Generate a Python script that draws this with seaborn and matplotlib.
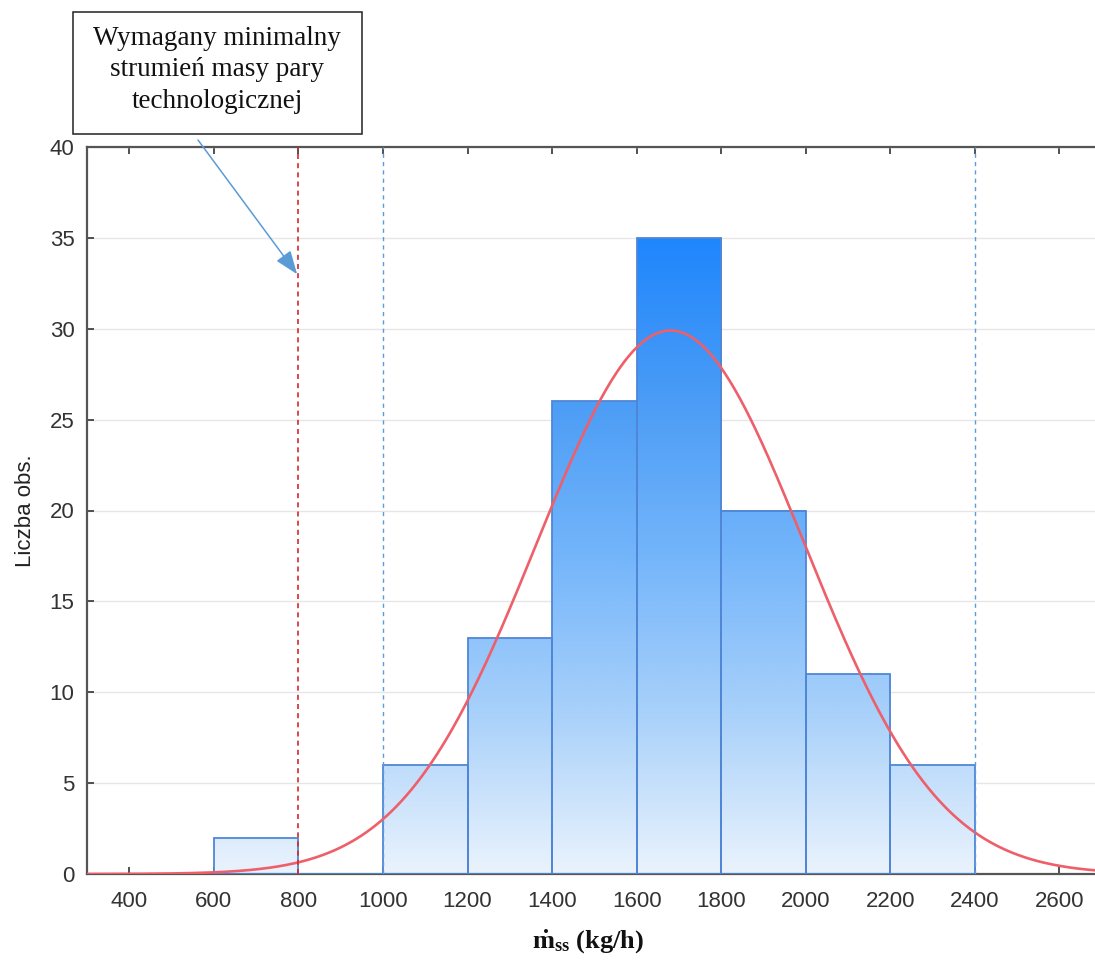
import numpy as np
import pandas as pd
import matplotlib
matplotlib.use("Agg")
import matplotlib.pyplot as plt
from matplotlib.colors import LinearSegmentedColormap
from matplotlib.patches import Rectangle
import seaborn as sns

# Histogram of steam mass flow (kg/h)
bin_edges = [600, 800, 1000, 1200, 1400, 1600, 1800, 2000, 2200, 2400]
counts = [2, 0, 6, 13, 26, 35, 20, 11, 6]

# Fitted normal distribution
fit_mean = 1680.0
fit_std = 317.5

min_required = 800
range_lines = [1000, 2400]

x_ticks = [400, 600, 800, 1000, 1200, 1400, 1600, 1800, 2000, 2200, 2400, 2600]
y_ticks = [0, 5, 10, 15, 20, 25, 30, 35, 40]

sns.set_theme(style="white")
plt.rcParams["font.family"] = ["Liberation Sans", "DejaVu Sans"]
plt.rcParams["mathtext.fontset"] = "custom"
plt.rcParams["mathtext.rm"] = "Liberation Serif"
plt.rcParams["mathtext.bf"] = "Liberation Serif:bold"

fig = plt.figure(figsize=(10.95, 9.65), dpi=100)
ax = fig.add_axes([87 / 1095, 1 - 874 / 965, 1 - 87 / 1095, (874 - 147) / 965])

centers = [(a + b) / 2 for a, b in zip(bin_edges[:-1], bin_edges[1:])]
df = pd.DataFrame({"x": centers, "n": counts})
sns.histplot(data=df, x="x", weights="n", bins=bin_edges, ax=ax,
             fill=True, facecolor="none", edgecolor="#4f86d6", linewidth=1.3,
             zorder=3)

ax.set_xlim(300, 2684)
ax.set_ylim(0, 40)

# Vertical gradient fill clipped to each bar
cmap = LinearSegmentedColormap.from_list(
    "bars", ["#eaf3fd", "#a9d1fa", "#74b5fa", "#4a9cf6", "#1f86fd"])
grad = np.linspace(0, 1, 256).reshape(-1, 1)
for patch in ax.patches:
    if patch.get_height() <= 0:
        continue
    im = ax.imshow(grad, cmap=cmap, origin="lower", aspect="auto",
                   extent=[300, 2684, 0, 35], zorder=2, interpolation="bilinear")
    im.set_clip_path(patch)
ax.set_xlim(300, 2684)
ax.set_ylim(0, 40)

# Normal curve scaled to counts
total = sum(counts)
width = bin_edges[1] - bin_edges[0]
xs = np.linspace(300, 2684, 600)
ys = total * width * np.exp(-0.5 * ((xs - fit_mean) / fit_std) ** 2) / (fit_std * np.sqrt(2 * np.pi))
sns.lineplot(x=xs, y=ys, ax=ax, color="#ee5f6a", linewidth=1.9, zorder=5)

ax.axvline(min_required, color="#d42a2a", linestyle=(0, (3, 2.5)), linewidth=1.2, zorder=6)
for xv in range_lines:
    ax.axvline(xv, color="#5a9ae0", linestyle=(0, (3, 3)), linewidth=1.0, zorder=6)

ax.set_xticks(x_ticks)
ax.set_yticks(y_ticks)
ax.yaxis.grid(True, color="#e6e6e6", linewidth=1.0)
ax.set_axisbelow(True)
ax.tick_params(axis="both", direction="in", length=5, width=1.2, colors="#333333",
               labelsize=16, top=True, left=True, bottom=True)
ax.tick_params(axis="x", pad=12)
ax.tick_params(axis="y", pad=9)
for side in ["left", "bottom", "top"]:
    ax.spines[side].set_color("#555555")
    ax.spines[side].set_linewidth(1.6)
ax.spines["right"].set_visible(False)

ax.set_ylabel("Liczba obs.", fontsize=16, color="#222222", labelpad=10)
ax.set_xlabel("")
fig.text(588 / 1095, 1 - 942 / 965, r"$\mathbf{\dot{m}_{ss}}$ (kg/h)",
         ha="center", va="center", fontsize=19, fontweight="bold",
         family="Liberation Serif", color="#111111")

# Annotation box with arrow pointing at the minimum-flow line
box = Rectangle((73 / 1095, 1 - 134 / 965), 289 / 1095, 122 / 965,
                transform=fig.transFigure, facecolor="white", edgecolor="#222222",
                linewidth=1.1, zorder=10)
fig.patches.append(box)
fig.text(217 / 1095, 1 - 70 / 965,
         "Wymagany minimalny\nstrumień masy pary\ntechnologicznej",
         ha="center", va="center", fontsize=19.5, family="Liberation Serif",
         linespacing=1.33, color="#111111", zorder=11)
ax.annotate("", xy=(797, 33), xycoords="data",
            xytext=(198 / 1095, 1 - 140 / 965), textcoords="figure fraction",
            arrowprops=dict(arrowstyle="-|>,head_length=1.2,head_width=0.45",
                            color="#5b9bd5", linewidth=1.1, shrinkA=0, shrinkB=0),
            zorder=12, annotation_clip=False)

fig.savefig("out.png", dpi=100)
